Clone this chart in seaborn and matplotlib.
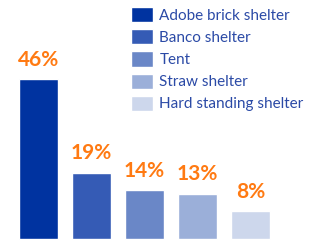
"""
Shelter types - share of households
"""

import seaborn as sns
import matplotlib.pyplot as plt

shelters = ["Adobe brick shelter", "Banco shelter", "Tent", "Straw shelter",
            "Hard standing shelter"]
shares = [46, 19, 14, 13, 8]
colors = ["#0033A0", "#355BB5", "#6A87C7", "#9BAFD9", "#CDD7EC"]

sns.set_theme(style="white")
plt.rcParams["font.family"] = ["Lato", "DejaVu Sans"]

fig = plt.figure(figsize=(3.17, 2.43), dpi=100)
ax = fig.add_axes([0, 0, 1, 1])

sns.barplot(x=shelters, y=shares, hue=shelters, palette=colors, width=0.74,
            saturation=1, dodge=False, legend=True, ax=ax)

for c in ax.containers:
    ax.bar_label(c, fmt="%d%%", padding=7, color="#FF7A12",
                 fontsize=15, fontweight="bold")

ax.set_xlim(-0.726, 5.255)
ax.set_ylim(-1.15, 68.9)
ax.axis("off")

leg = ax.legend(loc="upper left", bbox_to_anchor=(131 / 317, 1 - 7 / 243),
                bbox_transform=fig.transFigure, frameon=False,
                fontsize=11, handlelength=1.45, handleheight=1.15,
                handletextpad=0.4, labelspacing=0.42,
                borderpad=0, borderaxespad=0)
for t in leg.get_texts():
    t.set_color("#2B4AA6")

fig.savefig("out.png", dpi=100)
